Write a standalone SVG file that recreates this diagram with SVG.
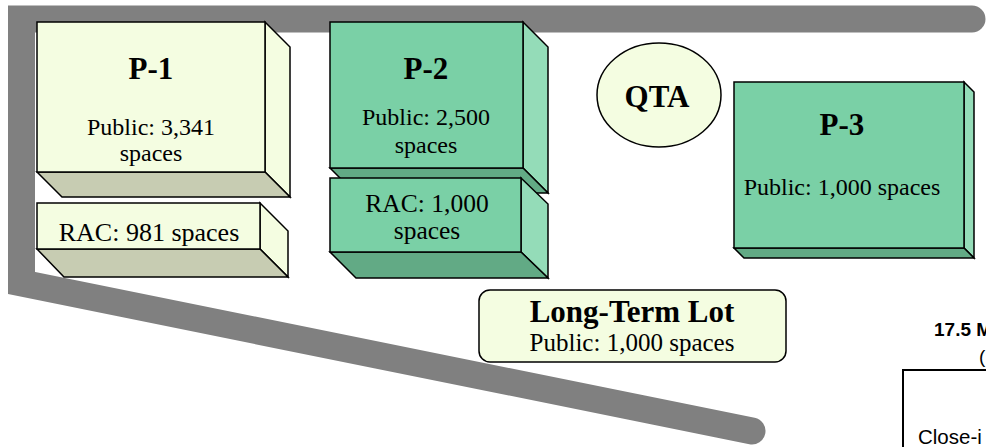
<svg xmlns="http://www.w3.org/2000/svg" width="986" height="447" viewBox="0 0 986 447">
<style>
.ln{stroke:#000;stroke-width:1.5;stroke-linejoin:miter}
.yf{fill:#F4FDE1}
.ys{fill:#F4FDE1}
.yb{fill:#C7CCB2}
.gf{fill:#7AD0A6}
.gs{fill:#94DCB8}
.gb{fill:#62AA85}
.t{font-family:"Liberation Serif","Times New Roman",serif;fill:#000;text-anchor:middle}
.b{font-weight:bold}
.a{font-family:"Liberation Sans",Arial,sans-serif;fill:#000}
</style>
<rect width="986" height="447" fill="#fff"/>
<g id="road">
<path d="M972,19 L21.5,19 L21.5,283 L752,431" fill="none" stroke="#808080" stroke-width="27" stroke-linejoin="miter" stroke-linecap="round"/>
</g>
<g id="p1">
<polygon class="ln ys" points="265,22 290,47 290,197 265,172"/>
<polygon class="ln yb" points="37,172 265,172 290,197 62,197"/>
<rect class="ln yf" x="37" y="22" width="228" height="150"/>
<text class="t b" x="151" y="79" font-size="31">P-1</text>
<text class="t" x="151" y="135" font-size="24">Public: 3,341</text>
<text class="t" x="151" y="161" font-size="24">spaces</text>
</g>
<g id="p1-rac">
<polygon class="ln ys" points="260,203 288,231 288,277 260,249"/>
<polygon class="ln yb" points="37,249 260,249 288,277 64,277"/>
<rect class="ln yf" x="37" y="203" width="223" height="46"/>
<text class="t" x="149" y="241" font-size="26">RAC: 981 spaces</text>
</g>
<g id="p2">
<polygon class="ln gs" points="523,22 548,47 548,193 523,168"/>
<polygon class="ln gb" points="330,168 523,168 548,193 355,193"/>
<rect class="ln gf" x="330" y="22" width="193" height="146"/>
<text class="t b" x="426" y="79" font-size="31">P-2</text>
<text class="t" x="426" y="125" font-size="24">Public: 2,500</text>
<text class="t" x="426" y="153" font-size="24">spaces</text>
</g>
<g id="p2-rac">
<polygon class="ln gs" points="521,178 548,204 548,278 521,252"/>
<polygon class="ln gb" points="330,252 521,252 548,278 356,278"/>
<rect class="ln gf" x="330" y="178" width="191" height="74"/>
<text class="t" x="427" y="212" font-size="25.5">RAC: 1,000</text>
<text class="t" x="427" y="239" font-size="25.5">spaces</text>
</g>
<g id="qta">
<ellipse class="ln yf" cx="659" cy="95" rx="62" ry="52"/>
<text class="t b" x="657" y="107" font-size="31">QTA</text>
</g>
<g id="p3">
<polygon class="ln gs" points="964,82 974,92 974,258 964,248"/>
<polygon class="ln gb" points="734,248 964,248 974,258 744,258"/>
<rect class="ln gf" x="734" y="82" width="230" height="166"/>
<text class="t b" x="842" y="135" font-size="31">P-3</text>
<text class="t" x="842" y="195" font-size="24">Public: 1,000 spaces</text>
</g>
<g id="long-term">
<rect class="ln yf" x="479" y="290" width="307" height="72" rx="11"/>
<text class="t b" x="632" y="322" font-size="31">Long-Term Lot</text>
<text class="t" x="632" y="351" font-size="25">Public: 1,000 spaces</text>
</g>
<g id="legend">
<text class="a" x="934" y="336" font-size="19" font-weight="bold">17.5 M</text>
<text class="a" x="979" y="363" font-size="19">(</text>
<rect x="903" y="370" width="200" height="100" fill="#fff" stroke="#000" stroke-width="2"/>
<text class="a" x="918" y="444" font-size="20.5">Close-i</text>
</g>
</svg>
